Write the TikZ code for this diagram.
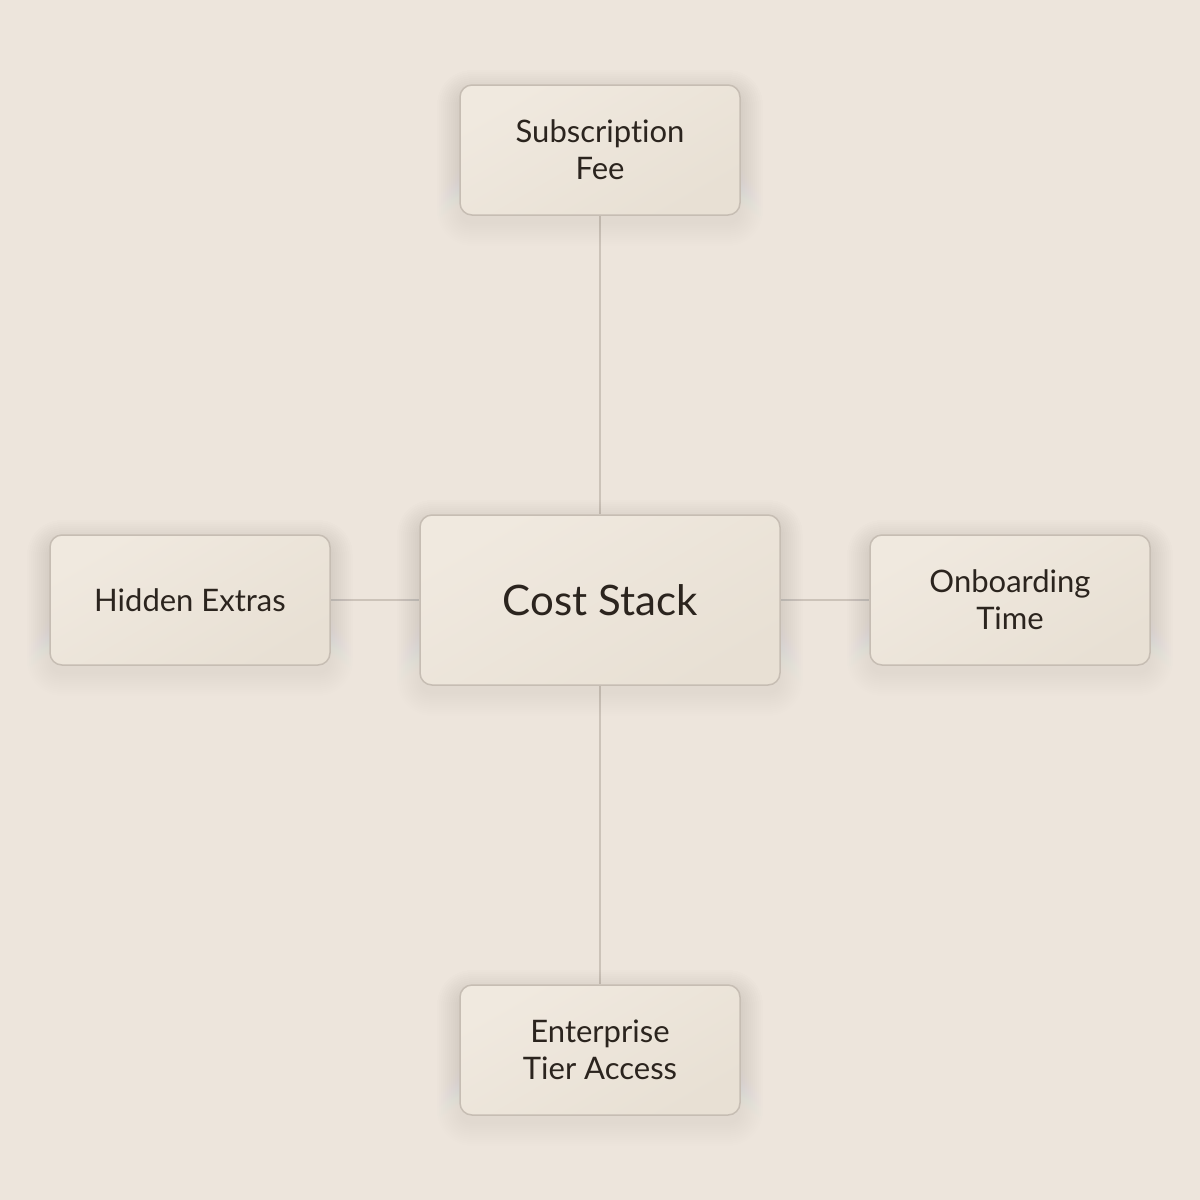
\documentclass[tikz,border=0pt]{standalone}
\usepackage{fontspec}
\setmainfont[RawFeature=-liga]{Lato}
\usetikzlibrary{backgrounds}
\definecolor{bg}{HTML}{EDE5DC}
\definecolor{boxa}{HTML}{F0E9DF}
\definecolor{boxb}{HTML}{E8E0D4}
\definecolor{edge}{HTML}{C6BDB3}
\definecolor{wire}{HTML}{CCC3B9}
\definecolor{ink}{HTML}{2B241E}
\definecolor{shade}{HTML}{6B5A48}
\tikzset{
  card/.style={draw=edge, line width=1.5pt, rounded corners=12pt,
    top color=boxa, bottom color=boxb, shading angle=30,
    text=ink, align=center, inner sep=0pt},
  smallcard/.style={card, minimum width=280pt, minimum height=130pt, font=\fontsize{31}{37}\selectfont},
  bigcard/.style={card, minimum width=360pt, minimum height=170pt, font=\fontsize{42}{50}\selectfont},
  wireline/.style={draw=wire, line width=1.5pt}
}
\newcommand{\mysoftshadow}[1]{%
  \foreach \i in {0,2,...,22}{%
    \pgfmathsetmacro{\rr}{12+\i}%
    \fill[shade, opacity=0.005, rounded corners=\rr pt]
      ([xshift=-\i pt, yshift=-8pt+\i pt]#1.north west) rectangle
      ([xshift=\i pt, yshift=-8pt-\i pt]#1.south east);
  }%
}
\begin{document}
\begin{tikzpicture}[x=1pt,y=-1pt]
\useasboundingbox (0,0) rectangle (1200,1200);
\node[bigcard] (c) at (600,600) {Cost Stack};
\node[smallcard] (t) at (600,150) {Subscription\\Fee};
\node[smallcard] (b) at (600,1050) {Enterprise\\Tier Access};
\node[smallcard] (l) at (190,600) {Hidden Extras};
\node[smallcard] (r) at (1010,600) {Onboarding\\Time};
\begin{pgfonlayer}{background}
\fill[bg] (0,0) rectangle (1200,1200);
\draw[wireline] (t.south) -- (c.north);
\draw[wireline] (c.south) -- (b.north);
\draw[wireline] (l.east) -- (c.west);
\draw[wireline] (c.east) -- (r.west);
\mysoftshadow{c}
\mysoftshadow{t}
\mysoftshadow{b}
\mysoftshadow{l}
\mysoftshadow{r}
\end{pgfonlayer}
\end{tikzpicture}
\end{document}
